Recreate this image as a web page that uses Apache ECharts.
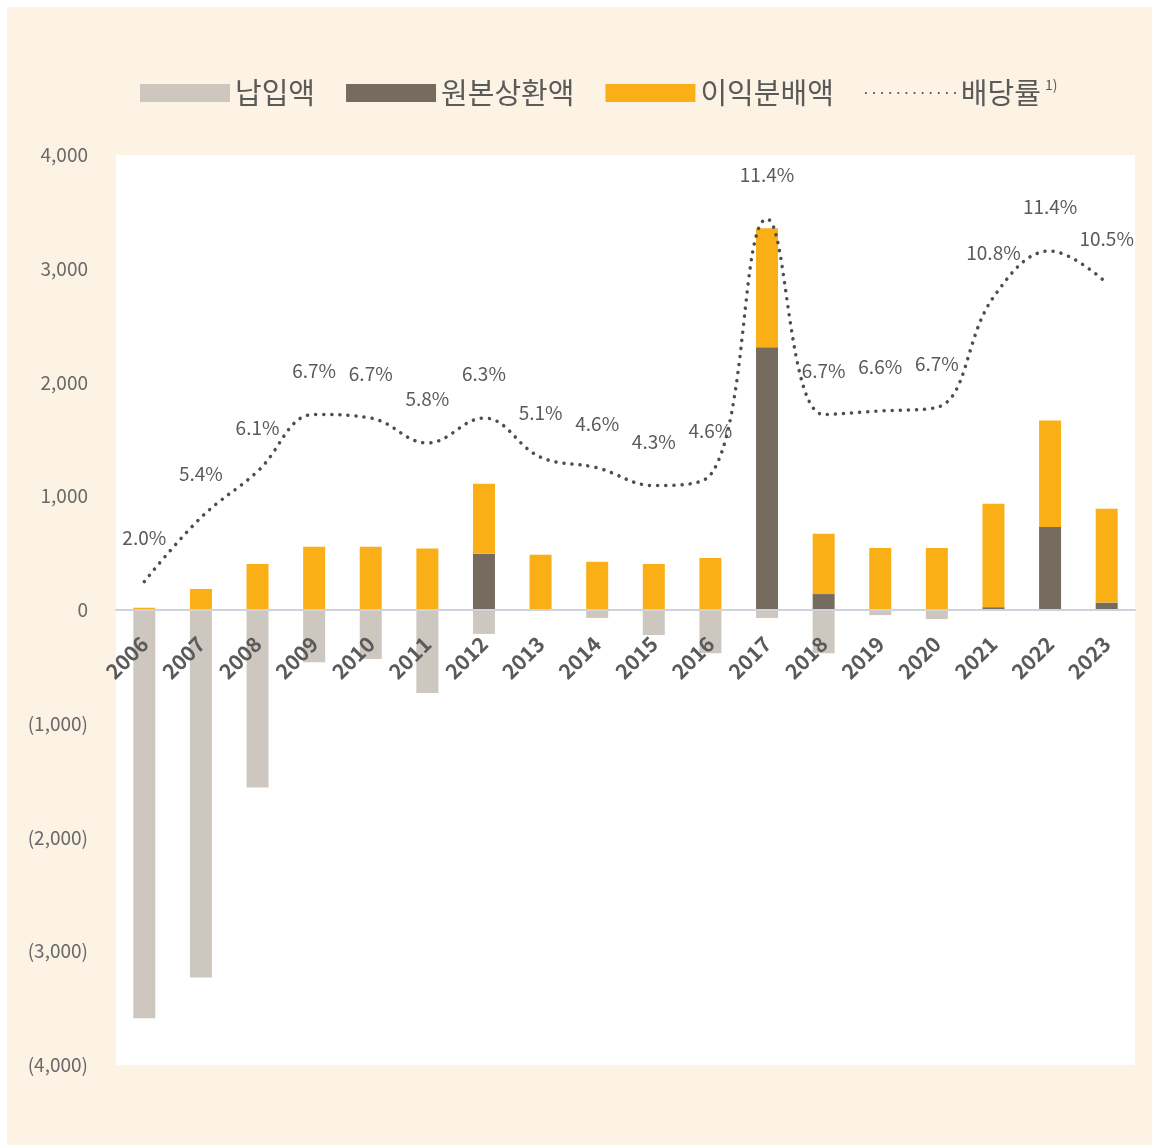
<!DOCTYPE html>
<html>
<head>
<meta charset="utf-8">
<script src="https://cdn.jsdelivr.net/npm/echarts@6/dist/echarts.min.js"></script>
<style>
  html, body { margin: 0; padding: 0; background: #fff; }
  #bg { position: absolute; left: 7px; top: 7px; width: 1145px; height: 1138px; background: #fcf3e5; }
  #chart { position: absolute; left: 0; top: 0; width: 1152px; height: 1145px; }
</style>
</head>
<body>
<div id="bg"></div>
<div id="chart"></div>
<script>
// Data
const years = ['2006', '2007', '2008', '2009', '2010', '2011', '2012', '2013', '2014',
  '2015', '2016', '2017', '2018', '2019', '2020', '2021', '2022', '2023'];
const paidIn = [-3590, -3230, -1560, -460, -430, -730, -210, -5, -70,
  -220, -380, -70, -380, -45, -80, 0, 0, 0];
const principal = [0, 0, 0, 0, 0, 0, 495, 0, 0, 0, 0, 2310, 140, 0, 0, 25, 730, 65];
const profit = [20, 185, 405, 555, 555, 540, 615, 485, 425, 405, 458, 1045, 530, 545, 545, 910, 935, 825];
// printed rate labels
const dividendRate = [2.0, 5.4, 6.1, 6.7, 6.7, 5.8, 6.3, 5.1, 4.6, 4.3, 4.6, 11.4, 6.7, 6.6, 6.7, 10.8, 11.4, 10.5];
// where the dotted line actually sits in the picture (same % scale, hidden axis)
const ratePlotted = [2.0, 3.8, 5.1, 6.7, 6.6, 5.9, 6.6, 5.5, 5.2, 4.7, 5.0, 12.2, 6.7, 6.8, 6.9, 10.0, 11.3, 10.4];

// label nudges where the reference moves labels off their point
const labelNudge = {
  '2008': [0, -12], '2013': [0, 2], '2014': [0, 2],
  '2018': [-15, -4], '2019': [-18, -3], '2020': [-20, 0],
  '2021': [5, -12], '2022': [0, -6]
};

const chart = echarts.init(document.getElementById('chart'));
const font = '"Noto Sans CJK KR", "Noto Sans", sans-serif';
const textGray = '#5a5a5a';

const option = {
  backgroundColor: 'transparent',
  textStyle: { fontFamily: font },
  legend: {
    left: 135,
    top: 73,
    itemWidth: 90,
    itemHeight: 18,
    itemGap: 31,
    textStyle: {
      fontSize: 29,
      color: textGray,
      fontFamily: font,
      rich: { sup: { fontSize: 14, color: textGray, padding: [0, 0, 16, 4] } }
    },
    formatter: name => (name === '배당률' ? '배당률{sup|1)}' : name),
    data: [
      { name: '납입액', icon: 'rect' },
      { name: '원본상환액', icon: 'rect' },
      { name: '이익분배액', icon: 'rect' },
      { name: '배당률', itemStyle: { opacity: 0 } }
    ]
  },
  grid: {
    left: 116,
    right: 17,
    top: 155,
    bottom: 80,
    show: true,
    backgroundColor: '#ffffff',
    borderWidth: 0
  },
  xAxis: {
    type: 'category',
    data: years,
    z: 10,
    axisLine: { onZero: true, lineStyle: { color: '#cfd2dc', width: 2 } },
    axisTick: { show: false },
    axisLabel: {
      rotate: 45,
      // labels sit at the grid bottom; pull them up under the zero line
      margin: -425,
      fontSize: 21,
      fontWeight: 'bold',
      color: textGray,
      fontFamily: font,
      interval: 0
    }
  },
  yAxis: [
    {
      type: 'value',
      min: -4000,
      max: 4000,
      interval: 1000,
      splitLine: { show: false },
      axisLine: { show: false },
      axisLabel: {
        margin: 28,
        fontSize: 19,
        color: '#6a6a6a',
        fontFamily: font,
        formatter: v => {
          const s = Math.abs(v).toLocaleString('en-US');
          return v < 0 ? '(' + s + ')' : s;
        }
      }
    },
    {
      type: 'value',
      show: false,
      min: -11.6,
      max: 14,
      splitLine: { show: false }
    }
  ],
  series: [
    {
      name: '납입액',
      type: 'bar',
      stack: 'total',
      barWidth: 22,
      itemStyle: { color: '#cdc7c0' },
      data: paidIn
    },
    {
      name: '원본상환액',
      type: 'bar',
      stack: 'total',
      barWidth: 22,
      itemStyle: { color: '#756b5f' },
      data: principal
    },
    {
      name: '이익분배액',
      type: 'bar',
      stack: 'total',
      barWidth: 22,
      itemStyle: { color: '#fbaf17' },
      data: profit
    },
    {
      name: '배당률',
      type: 'line',
      yAxisIndex: 1,
      smooth: 0.4,
      symbol: 'circle',
      symbolSize: 1,
      z: 5,
      lineStyle: { color: '#4e4e4e', width: 3.5, type: [0.1, 8], cap: 'round' },
      itemStyle: { color: 'rgba(78,78,78,0)' },
      label: {
        show: true,
        position: 'top',
        distance: 34,
        fontSize: 19,
        color: textGray,
        fontFamily: font,
        formatter: p => dividendRate[p.dataIndex].toFixed(1) + '%'
      },
      labelLayout: { hideOverlap: false },
      data: ratePlotted.map((v, i) => {
        const nudge = labelNudge[years[i]];
        return nudge ? { value: v, label: { offset: nudge } } : v;
      })
    }
  ]
};

chart.setOption(option);
</script>
</body>
</html>
